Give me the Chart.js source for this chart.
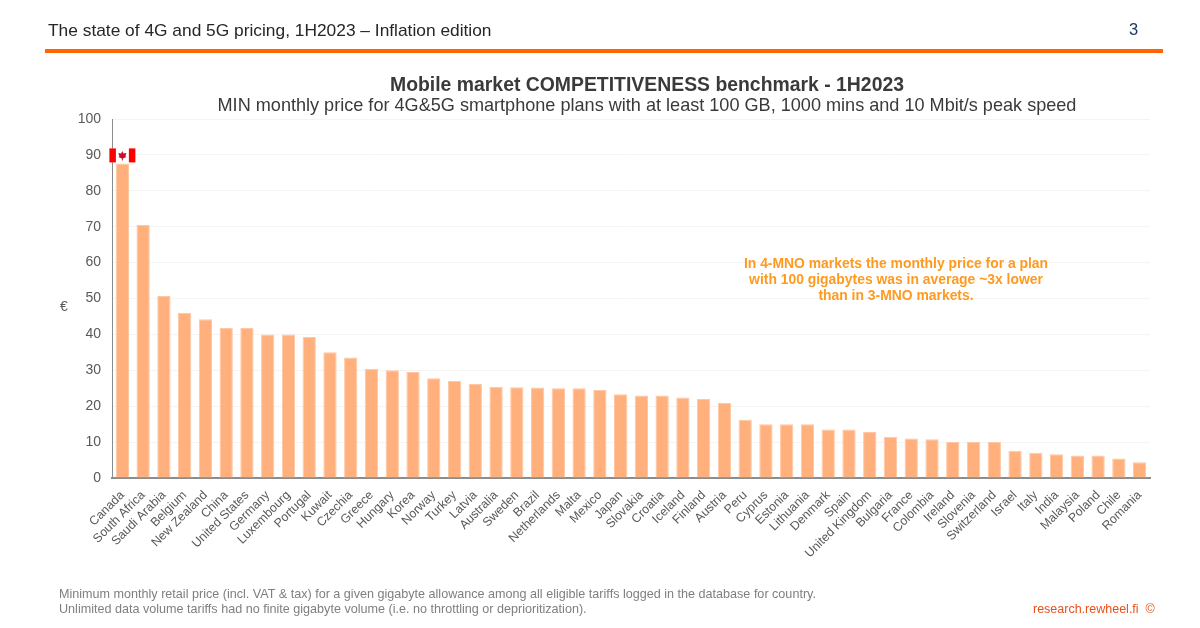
<!DOCTYPE html>
<html>
<head>
<meta charset="utf-8">
<title>Mobile market competitiveness benchmark</title>
<script src="https://cdn.jsdelivr.net/npm/chart.js@4"></script>
<style>
  html, body { margin: 0; padding: 0; background: #fff; }
  body { width: 1200px; height: 628px; position: relative; overflow: hidden; font-family: "Liberation Sans", Arial, sans-serif; }
  canvas { position: absolute; left: 0; top: 0; }
  .txt { position: absolute; white-space: nowrap; }
  #head { left: 48px; top: 20px; font-size: 17.35px; color: #262626; }
  #page { left: 1129px; top: 20px; font-size: 16.5px; color: #1f3864; }
  #rule { position: absolute; left: 45px; top: 49px; width: 1118px; height: 4px; background: #ff6400; }
  #t1 { left: 0; width: 1294px; top: 73px; text-align: center; font-size: 19.4px; font-weight: bold; color: #3a3a3a; }
  #t2 { left: 0; width: 1294px; top: 95px; text-align: center; font-size: 18.1px; color: #3a3a3a; }
  #note { left: 696px; width: 400px; top: 255px; text-align: center; font-size: 13.9px; line-height: 16px; font-weight: bold; color: #ff9a1f; }
  #unit { left: 60px; top: 298px; font-size: 14px; color: #595959; }
  #foot { left: 59px; top: 587px; font-size: 12.6px; line-height: 15px; color: #7f7f7f; }
  #src { left: 1033px; top: 602px; font-size: 12.5px; color: #e8501a; }
</style>
</head>
<body>
<canvas id="chart" width="1200" height="628"></canvas>
<div class="txt" id="head">The state of 4G and 5G pricing, 1H2023 – Inflation edition</div>
<div class="txt" id="page">3</div>
<div id="rule"></div>
<div class="txt" id="t1">Mobile market COMPETITIVENESS benchmark - 1H2023</div>
<div class="txt" id="t2">MIN monthly price for 4G&amp;5G smartphone plans with at least 100 GB, 1000 mins and 10 Mbit/s peak speed</div>
<div class="txt" id="note">In 4-MNO markets the monthly price for a plan<br>with 100 gigabytes was in average ~3x lower<br>than in 3-MNO markets.</div>
<div class="txt" id="unit">€</div>
<div class="txt" id="foot">Minimum monthly retail price (incl. VAT &amp; tax) for a given gigabyte allowance among all eligible tariffs logged in the database for country.<br>Unlimited data volume tariffs had no finite gigabyte volume (i.e. no throttling or deprioritization).</div>
<div class="txt" id="src">research.rewheel.fi &nbsp;©</div>

<script>
const countries = ['Canada', 'South Africa', 'Saudi Arabia', 'Belgium', 'New Zealand', 'China', 'United States', 'Germany', 'Luxembourg', 'Portugal',
  'Kuwait', 'Czechia', 'Greece', 'Hungary', 'Korea', 'Norway', 'Turkey', 'Latvia', 'Australia', 'Sweden',
  'Brazil', 'Netherlands', 'Malta', 'Mexico', 'Japan', 'Slovakia', 'Croatia', 'Iceland', 'Finland', 'Austria',
  'Peru', 'Cyprus', 'Estonia', 'Lithuania', 'Denmark', 'Spain', 'United Kingdom', 'Bulgaria', 'France', 'Colombia',
  'Ireland', 'Slovenia', 'Switzerland', 'Israel', 'Italy', 'India', 'Malaysia', 'Poland', 'Chile', 'Romania'];

const minPrice = [87.6, 70.5, 50.7, 46, 44.2, 41.8, 41.8, 40, 40, 39.3,
  35, 33.6, 30.4, 30, 29.5, 27.8, 27, 26.2, 25.4, 25.3,
  25.2, 25, 25, 24.5, 23.3, 23, 23, 22.4, 22, 20.9,
  16.2, 15, 15, 15, 13.5, 13.5, 12.8, 11.5, 11, 10.8,
  10, 10, 10, 7.6, 7, 6.6, 6.3, 6.3, 5.4, 4.4];

const flagAt = { country: 'Canada', value: 90 };

// small canadian flag sitting above the first bar
const flagPlugin = {
  id: 'flag',
  afterDatasetsDraw(chart) {
    const ctx = chart.ctx;
    const x = chart.scales.x.getPixelForValue(countries.indexOf(flagAt.country));
    const y = chart.scales.y.getPixelForValue(flagAt.value) + 0.5;
    ctx.save();
    ctx.fillStyle = '#fff';
    ctx.fillRect(x - 13, y - 7, 26, 14);
    ctx.fillStyle = '#ff0000';
    ctx.fillRect(x - 13, y - 7, 6.5, 14);
    ctx.fillRect(x + 6.5, y - 7, 6.5, 14);
    ctx.fillStyle = '#c8102e';
    ctx.beginPath();
    ctx.moveTo(x, y - 4.5);
    ctx.lineTo(x + 1.2, y - 2);
    ctx.lineTo(x + 4, y - 2.5);
    ctx.lineTo(x + 3, y + 1);
    ctx.lineTo(x + 4.2, y + 1.5);
    ctx.lineTo(x + 0.5, y + 3.2);
    ctx.lineTo(x + 0.5, y + 5);
    ctx.lineTo(x - 0.5, y + 5);
    ctx.lineTo(x - 0.5, y + 3.2);
    ctx.lineTo(x - 4.2, y + 1.5);
    ctx.lineTo(x - 3, y + 1);
    ctx.lineTo(x - 4, y - 2.5);
    ctx.lineTo(x - 1.2, y - 2);
    ctx.closePath();
    ctx.fill();
    ctx.restore();
  }
};

new Chart(document.getElementById('chart'), {
  type: 'bar',
  plugins: [flagPlugin],
  data: {
    labels: countries,
    datasets: [{
      data: minPrice,
      backgroundColor: '#ffb07c',
      borderColor: '#ffc7a3',
      borderWidth: 1,
      barPercentage: 0.64,
      categoryPercentage: 1
    }]
  },
  options: {
    responsive: false,
    animation: false,
    devicePixelRatio: 1,
    layout: { padding: { left: 0, right: 50, top: 119, bottom: 0 } },
    plugins: { legend: { display: false }, tooltip: { enabled: false } },
    scales: {
      x: {
        afterFit(axis) { axis.height = 150; },
        grid: { display: false, drawTicks: false },
        border: { color: '#8c8c8c', width: 2 },
        ticks: {
          autoSkip: false,
          maxRotation: 45,
          minRotation: 45,
          padding: 10,
          color: '#595959',
          font: { family: '"Liberation Sans", Arial, sans-serif', size: 12.4 }
        }
      },
      y: {
        min: 0,
        max: 100,
        afterFit(axis) { axis.width = 112; },
        grid: { color: '#f4f4f4', drawTicks: false },
        border: { color: '#8c8c8c', width: 1 },
        ticks: {
          stepSize: 10,
          padding: 11,
          color: '#595959',
          font: { family: '"Liberation Sans", Arial, sans-serif', size: 14 }
        }
      }
    }
  }
});
</script>
</body>
</html>
